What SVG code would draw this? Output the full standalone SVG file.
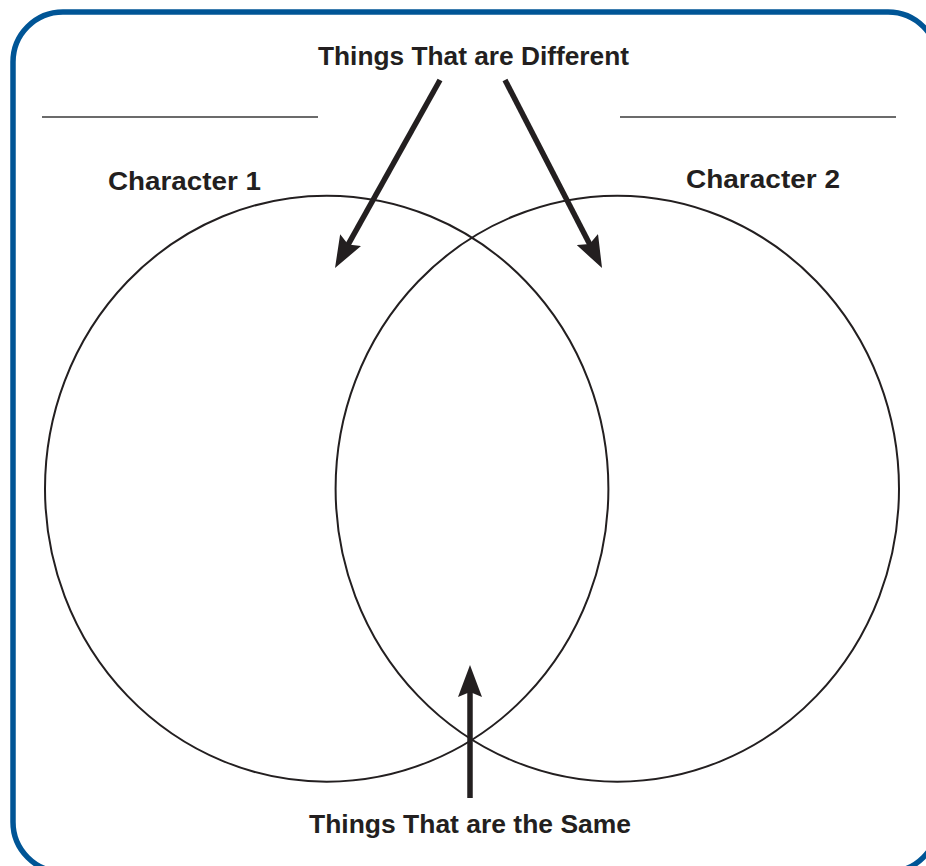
<svg xmlns="http://www.w3.org/2000/svg" width="926" height="866" viewBox="0 0 926 866">
<style>
.t{font-family:"Liberation Sans",Arial,sans-serif;font-weight:bold;font-size:26px;fill:#231f20}
.c{fill:none;stroke:#231f20;stroke-width:2}
.ln{stroke:#3a3a3a;stroke-width:1.5}
.ar{stroke:#231f20;stroke-width:5.5;fill:none}
</style>
<defs>
<marker id="ah" markerUnits="userSpaceOnUse" viewBox="0 0 32 24" refX="6" refY="12" markerWidth="32" markerHeight="24" orient="auto">
<path d="M0,0 L32,12 L0,24 L5,12 Z" fill="#231f20"/>
</marker>
</defs>
<rect x="13" y="12" width="925" height="860" rx="50" ry="50" fill="#fff" stroke="#005596" stroke-width="5.5"/>
<g id="line-left"><line class="ln" x1="42" y1="117" x2="318" y2="117"/></g>
<g id="line-right"><line class="ln" x1="620" y1="117" x2="896" y2="117"/></g>
<g id="circle-1"><ellipse class="c" cx="326.7" cy="488.7" rx="281.7" ry="293"/></g>
<g id="circle-2"><ellipse class="c" cx="617.3" cy="488.7" rx="281.7" ry="293"/></g>
<g id="label-different"><text class="t" x="318" y="65" textLength="311" lengthAdjust="spacingAndGlyphs">Things That are Different</text></g>
<g id="label-char1"><text class="t" x="108" y="190" textLength="153" lengthAdjust="spacingAndGlyphs">Character 1</text></g>
<g id="label-char2"><text class="t" x="686" y="188" textLength="154" lengthAdjust="spacingAndGlyphs">Character 2</text></g>
<g id="label-same"><text class="t" x="309" y="833" textLength="322" lengthAdjust="spacingAndGlyphs">Things That are the Same</text></g>
<g id="connectors">
<line class="ar" x1="440" y1="80" x2="347.7" y2="245.3" marker-end="url(#ah)"/>
<line class="ar" x1="505" y1="80" x2="590.1" y2="244.9" marker-end="url(#ah)"/>
<line class="ar" x1="470" y1="798" x2="470" y2="691" marker-end="url(#ah)"/>
</g>
</svg>
